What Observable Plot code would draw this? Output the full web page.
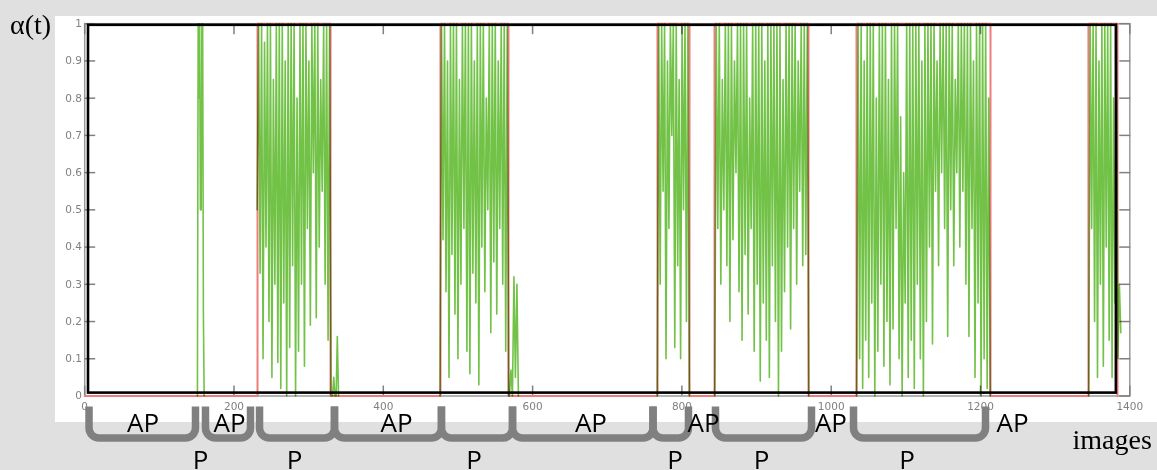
<!DOCTYPE html>
<html>
<head>
<meta charset="utf-8">
<script src="https://cdn.jsdelivr.net/npm/d3@7"></script>
<script src="https://cdn.jsdelivr.net/npm/@observablehq/plot@0.6"></script>
<style>
html, body { margin: 0; padding: 0; background: #e0e0e0; }
#wrap { position: relative; width: 1157px; height: 470px; overflow: hidden; background: #e0e0e0; }
#panel { position: absolute; left: 55px; top: 16px; width: 1102px; height: 406px; background: #fff; }
#chart { position: absolute; left: 0; top: 0; }
.lbl { position: absolute; font-family: "Liberation Serif", "Times New Roman", serif; font-size: 28px; line-height: 1; color: #000; white-space: nowrap; }
</style>
</head>
<body>
<div id="wrap">
  <div id="panel"></div>
  <div id="chart"></div>
  <div class="lbl" style="left:10px; top:10.5px;">α(t)</div>
  <div class="lbl" style="left:1072.5px; top:425.8px;">images</div>
</div>
<script>
// ---- axis ticks ----
const xTicks = [0, 200, 400, 600, 800, 1000, 1200, 1400];
const yTicks = [0, 0.1, 0.2, 0.3, 0.4, 0.5, 0.6, 0.7, 0.8, 0.9, 1];

// ---- ground truth (red step): frame where the state changes, and the new state ----
const truthFrames = [0, 231.5, 329.3, 476.6, 567.7, 767.3, 810.2, 843.7, 969.6, 1033.9, 1213.4, 1344.6, 1383.5];
const truthValues = [0, 1, 0, 1, 0, 1, 0, 1, 0, 1, 0, 1, 0];

// ---- estimated alpha(t) (green), one list per burst: first frame, last frame, samples ----
const segStart = [151, 231, 332, 476, 569, 767, 844, 1034, 1345];
const segEnd   = [160, 330, 340, 568, 581, 810, 970, 1213, 1388];
const segA = [0, 1, 0.8, 1, 0.5, 0.5, 1, 1, 0.22, 0];
const segB = [0.5, 1, 0.33, 1, 0.1, 0.95, 0.4, 1, 0.2, 1, 0.05, 0.85, 0.3, 1, 0.09, 1, 0.02, 1, 0.25, 0.9,
              0.0, 1, 0.13, 1, 0.35, 1, 0.0, 0.8, 0.12, 1, 0.3, 1, 0.08, 1, 0.45, 0.9, 0.19, 1, 0.6, 1,
              0.21, 1, 0.4, 0.85, 0.55, 1, 0.3, 1, 0.15, 1, 0];
const segBtail = [0, 0.05, 0, 0, 0.16, 0];
const segC = [0, 1, 0.42, 1, 0.28, 0.9, 0.05, 1, 0.38, 1, 0.22, 1, 0.1, 0.85, 0.3, 1, 0.45, 1, 0.12, 1,
              0.06, 1, 0.33, 0.9, 0.25, 1, 0.03, 1, 0.4, 1, 0.28, 0.8, 0.5, 1, 0.17, 1, 0.36, 1, 0.22, 0.9,
              0.45, 1, 0.3, 1, 0.12, 1, 0];
const segCtail = [0, 0.07, 0, 0.32, 0.05, 0.3, 0];
const segD = [0, 1, 0.3, 1, 0.55, 1, 0.1, 0.9, 0.45, 1, 0.7, 1, 0.13, 1, 0.35, 0.85, 0.1, 1, 0.5, 1, 0.2, 1, 0];
const segE = [0, 1, 0.45, 1, 0.3, 0.85, 0.5, 1, 0.35, 1, 0.2, 1, 0.42, 0.9, 0.6, 1, 0.28, 1, 0.15, 1,
              0.38, 1, 0.22, 0.8, 0.45, 1, 0.12, 1, 0.3, 1, 0.04, 1, 0.25, 0.9, 0.15, 1, 0.05, 1, 0.35, 1,
              0.2, 1, 0.0, 1, 0.12, 0.85, 0.28, 1, 0.4, 1, 0.18, 1, 0.45, 1, 0.3, 0.9, 0.55, 1, 0.35, 1,
              0.38, 1, 0];
const segF = [0, 1, 0.1, 1, 0.02, 0.9, 0.15, 1, 0.05, 1, 0.25, 1, 0.0, 0.8, 0.12, 1, 0.3, 1, 0.08, 1,
              0.2, 0.85, 0.03, 1, 0.18, 1, 0.45, 1, 0.1, 0.75, 0.0, 0.6, 0.25, 1, 0.05, 1, 0.15, 1, 0.02, 1,
              0.3, 1, 0.1, 0.9, 0.0, 1, 0.2, 1, 0.4, 1, 0.14, 1, 0.55, 0.9, 0.35, 1, 0.6, 1, 0.45, 1,
              0.16, 1, 0.5, 1, 0.35, 0.85, 0.6, 1, 0.4, 1, 0.55, 1, 0.3, 1, 0.16, 1, 0.45, 0.9, 0.05, 1,
              0.25, 1, 0.0, 1, 0.1, 1, 0.02, 0.8, 0];
const segG = [0, 1, 0.45, 1, 0.2, 1, 0.05, 0.9, 0.3, 1, 0.08, 1, 0.4, 1, 0.15, 1, 0.05, 0.8, 0.25, 1, 0.1, 0.3, 0.17];
const segValues = [segA, segB, segBtail, segC, segCtail, segD, segE, segF, segG];

// ---- black highlight box drawn over the axes (frames / alpha) ----
const boxX = [5.1, 1382];
const boxY = [0.0078, 0.9957];

// ---- annotation brackets below the axis (frames) ----
const bracketFrom = [5.8, 161.8, 234.2, 334.6, 477.9, 573.1, 761.3, 845.0, 1029.9];
const bracketTo   = [148.4, 222.1, 334.6, 477.9, 573.1, 761.3, 808.8, 973.6, 1206.7];
const bracketTop = -0.028, bracketBottom = -0.113;

// ---- labels ----
const apLabelFrames = [78.1, 194, 417.7, 678.2, 829, 999.7, 1242.9];
const pLabelFrames  = [155.1, 281.1, 521.5, 790.8, 906.6, 1101.5];
const apLabelY = -0.097, pLabelY = -0.196;

// build tables
const truth = truthFrames.map((f, i) => ({f, v: truthValues[i]}));
const green = [];
segValues.forEach((vals, s) => {
  const a = segStart[s], b = segEnd[s], n = vals.length;
  vals.forEach((v, i) => green.push({seg: s, f: a + (b - a) * i / (n - 1), v}));
});
const brackets = [];
bracketFrom.forEach((a, i) => {
  const b = bracketTo[i];
  brackets.push({k: i, f: a, v: bracketTop}, {k: i, f: a, v: bracketBottom},
                {k: i, f: b, v: bracketBottom}, {k: i, f: b, v: bracketTop});
});

function roundedCorners(context) {
  let pts = [];
  return {
    areaStart() {}, areaEnd() {},
    lineStart() { pts = []; },
    point(x, y) { pts.push([+x, +y]); },
    lineEnd() {
      if (!pts.length) return;
      context.moveTo(pts[0][0], pts[0][1]);
      for (let i = 1; i < pts.length - 1; i++) context.arcTo(pts[i][0], pts[i][1], pts[i + 1][0], pts[i + 1][1], 10);
      context.lineTo(pts[pts.length - 1][0], pts[pts.length - 1][1]);
    }
  };
}

const yFmt = d => (d === 0 ? "0" : d === 1 ? "1" : d.toFixed(1));

const chart = Plot.plot({
  width: 1157,
  height: 470,
  marginLeft: 84.2,
  marginRight: 27.7,
  marginTop: 23.2,
  marginBottom: 74.5,
  x: {domain: [0, 1400], label: null},
  y: {domain: [0, 1], label: null},
  style: {background: "transparent", overflow: "visible", fontFamily: "DejaVu Sans"},
  marks: [
    Plot.frame({stroke: "#9a9a9a", strokeWidth: 1.5}),
    Plot.axisY({anchor: "left", ticks: yTicks, tickFormat: yFmt, tickSize: -11, tickPadding: 13.7,
                color: "#808080", fontSize: 10.5, strokeWidth: 1.5}),
    Plot.axisY({anchor: "right", ticks: yTicks, tickFormat: () => "", tickSize: -11, tickPadding: 0,
                color: "#808080", strokeWidth: 1.5}),
    Plot.axisX({anchor: "bottom", ticks: xTicks, tickFormat: d => String(d), tickSize: -10, tickPadding: 16.5,
                color: "#808080", fontSize: 10.5, strokeWidth: 1.5}),
    Plot.axisX({anchor: "top", ticks: xTicks, tickFormat: () => "", tickSize: -10, tickPadding: 0,
                color: "#808080", strokeWidth: 1.5}),
    Plot.line(truth, {x: "f", y: "v", curve: "step-after", stroke: "#f07c7c", strokeWidth: 2}),
    Plot.line(green, {x: "f", y: "v", z: "seg", stroke: "#72c248", strokeWidth: 1.6, mixBlendMode: "multiply"}),
    Plot.rect([{}], {x1: () => boxX[0], x2: () => boxX[1], y1: () => boxY[0], y2: () => boxY[1],
                     fill: "none", stroke: "#000", strokeWidth: 2.6}),
    Plot.line(brackets, {x: "f", y: "v", z: "k", curve: roundedCorners, stroke: "#808080", strokeWidth: 7.5,
                         strokeLinecap: "butt", strokeLinejoin: "round"}),
    Plot.text(apLabelFrames, {x: d => d, y: () => apLabelY, text: () => "AP", fontFamily: "Open Sans",
                              fontSize: 26, fill: "#000", lineAnchor: "bottom", textAnchor: "middle"}),
    Plot.text(pLabelFrames, {x: d => d, y: () => pLabelY, text: () => "P", fontFamily: "Open Sans",
                             fontSize: 26, fill: "#000", lineAnchor: "bottom", textAnchor: "middle"})
  ]
});
document.getElementById("chart").appendChild(chart);
</script>
</body>
</html>
